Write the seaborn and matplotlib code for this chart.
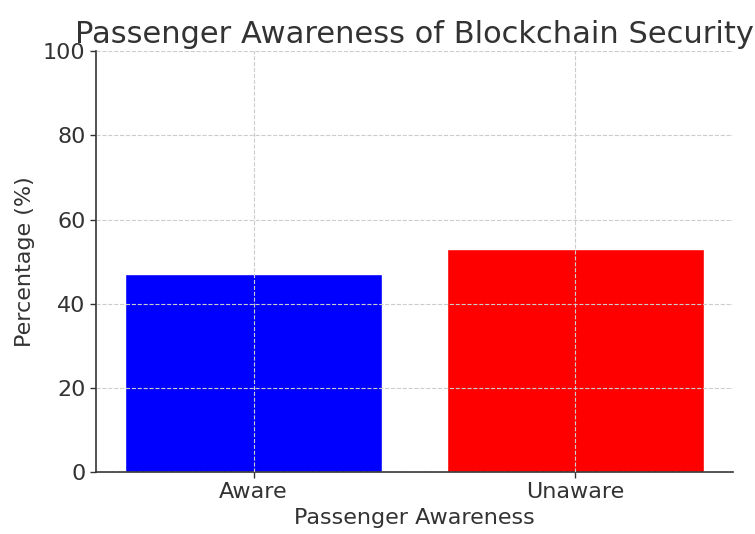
import matplotlib
matplotlib.use("Agg")
import matplotlib.pyplot as plt
import seaborn as sns
import pandas as pd

categories = ["Aware", "Unaware"]
percentages = [47, 53]
colors = ["#0000ff", "#ff0000"]

sns.set_theme(style="white")
plt.rcParams['font.family'] = ['DejaVu Sans']

df = pd.DataFrame({"Passenger Awareness": categories, "Percentage (%)": percentages})

fig = plt.figure(figsize=(7.55, 5.34), dpi=100)
ax = fig.add_axes([0.127, 0.116, 0.844, 0.788])
sns.barplot(data=df, x="Passenger Awareness", y="Percentage (%)", hue="Passenger Awareness",
            palette=colors, width=0.8, saturation=1, legend=False, ax=ax, zorder=1)
ax.set_xlim(-0.49, 1.49)
ax.set_ylim(0, 100)
ax.set_yticks([0, 20, 40, 60, 80, 100])
ax.grid(True, linestyle="--", color="#cccccc", linewidth=0.8, zorder=2)
ax.set_axisbelow(False)
for s in ["top", "right"]:
    ax.spines[s].set_visible(False)
for s in ["left", "bottom"]:
    ax.spines[s].set_color("#333333")
    ax.spines[s].set_linewidth(1.2)
ax.tick_params(axis="both", labelsize=16, colors="#333333", length=4, width=1, left=True, bottom=True)
ax.set_title("Passenger Awareness of Blockchain Security", fontsize=22, color="#333333", pad=6)
ax.set_xlabel("Passenger Awareness", fontsize=16, color="#333333", labelpad=4)
ax.set_ylabel("Percentage (%)", fontsize=16, color="#333333", labelpad=6)
fig.savefig("out.png", dpi=100)
